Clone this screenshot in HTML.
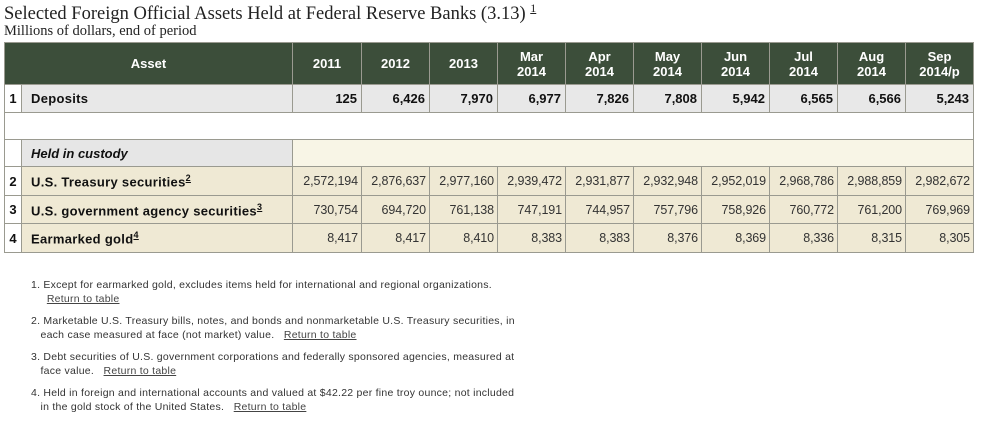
<!DOCTYPE html>
<html><head><meta charset="utf-8"><style>
body{margin:0;width:985px;height:426px;background:#fff;font-family:"Liberation Sans",Arial,sans-serif;position:relative;overflow:hidden}
.title{position:absolute;left:4px;top:1px;font-family:"Liberation Serif",serif;font-size:18.5px;color:#222;white-space:nowrap}
.title sup{font-size:12px;text-decoration:underline}
.sub{position:absolute;left:4px;top:23px;font-family:"Liberation Serif",serif;font-size:14.5px;color:#222}
table{position:absolute;left:4px;top:42px;border-collapse:collapse;table-layout:fixed;width:969px}
td,th{border:1px solid #9a9a90;padding:0 4px;font-size:13px;color:#111;overflow:hidden;white-space:nowrap}
th{background:#3c4e3a;color:#fff;font-weight:bold;text-align:center;line-height:15px;font-size:13px}
td.n{text-align:right;font-weight:bold}
td.v{text-align:right;color:#333;font-size:12.5px;letter-spacing:-0.1px;padding:0 3px}
td.idx{text-align:center;font-weight:bold;padding:0}
td.lab{font-weight:bold;padding-left:9px;letter-spacing:0.3px}
.dep td{background:#e8e8e8}
.dep td.idx{background:#fff}
.blank td{background:#fff}
.held td{background:#f8f5e6}
.held td.hl{background:#e6e6e6;font-style:italic;font-weight:bold;padding-left:9px}
.held td.idx{background:#fff}
.r td{background:#efe9d4}
.r td.idx{background:#fff}
sup u{font-size:9px}
.notes{position:absolute;left:31px;top:278px;font-size:10.5px;color:#333;line-height:14px;letter-spacing:0.25px}
.notes p{margin:0 0 8px 0}
.notes a{color:#444;text-decoration:underline}
</style></head><body>
<div class="title">Selected Foreign Official Assets Held at Federal Reserve Banks (3.13) <sup>1</sup></div>
<div class="sub">Millions of dollars, end of period</div>
<table>
<colgroup><col style="width:17px"><col style="width:271px"><col style="width:69px"><col style="width:68px"><col style="width:68px"><col style="width:68px"><col style="width:68px"><col style="width:68px"><col style="width:68px"><col style="width:68px"><col style="width:68px"><col style="width:68px"></colgroup>
<tr style="height:42px">
<th colspan="2">Asset</th>
<th>2011</th><th>2012</th><th>2013</th>
<th>Mar<br>2014</th><th>Apr<br>2014</th><th>May<br>2014</th><th>Jun<br>2014</th><th>Jul<br>2014</th><th>Aug<br>2014</th><th>Sep<br>2014/p</th>
</tr>
<tr class="dep" style="height:28px">
<td class="idx">1</td><td class="lab">Deposits</td>
<td class="n">125</td><td class="n">6,426</td><td class="n">7,970</td><td class="n">6,977</td><td class="n">7,826</td><td class="n">7,808</td><td class="n">5,942</td><td class="n">6,565</td><td class="n">6,566</td><td class="n">5,243</td>
</tr>
<tr class="blank" style="height:27px"><td colspan="12"></td></tr>
<tr class="held" style="height:27px">
<td class="idx"></td><td class="hl">Held in custody</td><td colspan="10"></td>
</tr>
<tr class="r" style="height:29px">
<td class="idx">2</td><td class="lab">U.S. Treasury securities<sup><u>2</u></sup></td>
<td class="v">2,572,194</td><td class="v">2,876,637</td><td class="v">2,977,160</td><td class="v">2,939,472</td><td class="v">2,931,877</td><td class="v">2,932,948</td><td class="v">2,952,019</td><td class="v">2,968,786</td><td class="v">2,988,859</td><td class="v">2,982,672</td>
</tr>
<tr class="r" style="height:28px">
<td class="idx">3</td><td class="lab">U.S. government agency securities<sup><u>3</u></sup></td>
<td class="v">730,754</td><td class="v">694,720</td><td class="v">761,138</td><td class="v">747,191</td><td class="v">744,957</td><td class="v">757,796</td><td class="v">758,926</td><td class="v">760,772</td><td class="v">761,200</td><td class="v">769,969</td>
</tr>
<tr class="r" style="height:29px">
<td class="idx">4</td><td class="lab">Earmarked gold<sup><u>4</u></sup></td>
<td class="v">8,417</td><td class="v">8,417</td><td class="v">8,410</td><td class="v">8,383</td><td class="v">8,383</td><td class="v">8,376</td><td class="v">8,369</td><td class="v">8,336</td><td class="v">8,315</td><td class="v">8,305</td>
</tr>
</table>
<div class="notes">
<p>1. Except for earmarked gold, excludes items held for international and regional organizations.<br>&nbsp;&nbsp;&nbsp;&nbsp;&nbsp;<a>Return to table</a></p>
<p>2. Marketable U.S. Treasury bills, notes, and bonds and nonmarketable U.S. Treasury securities, in<br>&nbsp;&nbsp;&nbsp;each case measured at face (not market) value.&nbsp;&nbsp; <a>Return to table</a></p>
<p>3. Debt securities of U.S. government corporations and federally sponsored agencies, measured at<br>&nbsp;&nbsp;&nbsp;face value.&nbsp;&nbsp; <a>Return to table</a></p>
<p>4. Held in foreign and international accounts and valued at $42.22 per fine troy ounce; not included<br>&nbsp;&nbsp;&nbsp;in the gold stock of the United States.&nbsp;&nbsp; <a>Return to table</a></p>
</div>
</body></html>
